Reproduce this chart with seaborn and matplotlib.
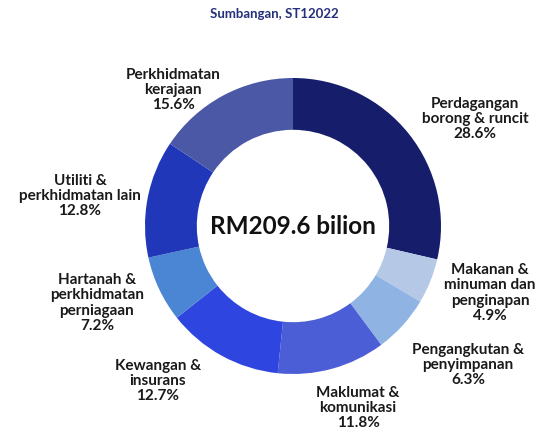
import matplotlib
matplotlib.use("Agg")
import matplotlib.pyplot as plt
import seaborn as sns

sectors = ["Perdagangan\nborong & runcit", "Makanan &\nminuman dan\npenginapan",
           "Pengangkutan &\npenyimpanan", "Maklumat &\nkomunikasi", "Kewangan &\ninsurans",
           "Hartanah &\nperkhidmatan\nperniagaan", "Utiliti &\nperkhidmatan lain",
           "Perkhidmatan\nkerajaan"]
shares = [28.6, 4.9, 6.3, 11.8, 12.7, 7.2, 12.8, 15.6]
colors = ["#161d6b", "#b5c8e6", "#8fb3e2", "#4b5ed6", "#2f45df", "#4a86d3", "#1f37b8", "#4b58a6"]
total_label = "RM209.6 bilion"
title = "Sumbangan, ST12022"

# label centres in pixels (x, y from top)
label_pos = [(475, 119), (490, 293), (468, 365), (358, 408), (158, 381),
             (97, 303), (80, 196), (173, 90)]

sns.set_theme(style="white")
plt.rcParams["font.family"] = ["Lato", "DejaVu Sans"]

fig = plt.figure(figsize=(5.57, 4.30), dpi=100)
ax = fig.add_axes([0, 0, 1, 1])

cx, cy, r = 293, 430 - 226, 148
ax.pie(shares, colors=colors, startangle=90, counterclock=False,
       center=(cx, cy), radius=r, frame=True,
       wedgeprops=dict(width=r * 0.35, linewidth=0))
ax.set_xlim(0, 557)
ax.set_ylim(0, 430)
ax.set_aspect("equal")
ax.axis("off")

for name, val, (px, py) in zip(sectors, shares, label_pos):
    ax.text(px, 430 - py, f"{name}\n{val:.1f}%", ha="center", va="center",
            fontsize=11, fontweight="bold", color="#1a1a1a", linespacing=1.1)

ax.text(cx, cy, total_label, ha="center", va="center",
        fontsize=17.5, fontweight="bold", color="#111111")
fig.text(274 / 557, 1 - 14 / 430, title, ha="center", va="center",
         fontsize=9.5, fontweight="bold", color="#24307a")

fig.savefig("out.png", dpi=100)
